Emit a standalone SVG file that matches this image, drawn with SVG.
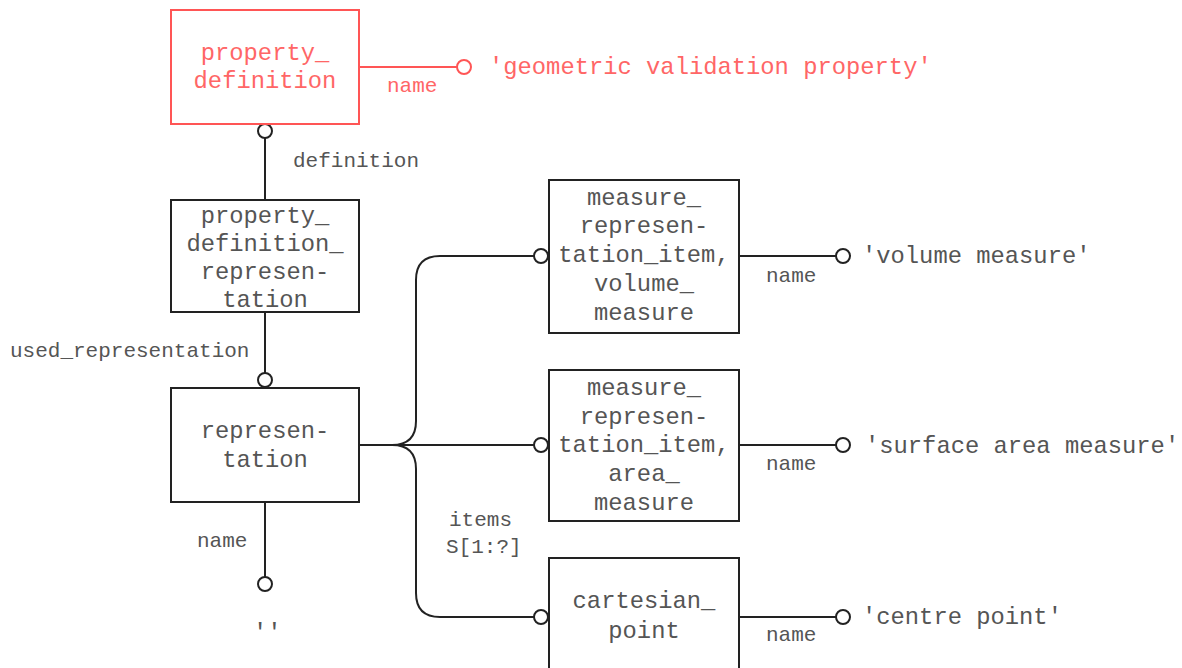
<svg xmlns="http://www.w3.org/2000/svg" width="1182" height="668" viewBox="0 0 1182 668">
<style>
.box{fill:#fff;stroke:#222;stroke-width:2}
.rbox{fill:#fff;stroke:#f55;stroke-width:2}
.ln{fill:none;stroke:#222;stroke-width:2}
.rln{fill:none;stroke:#f55;stroke-width:2}
.c{fill:#fff;stroke:#222;stroke-width:2}
.rc{fill:#fff;stroke:#f55;stroke-width:2}
.t{font-family:"Liberation Mono","Courier New",monospace;font-size:23.8px;fill:#555;text-anchor:middle}
.rt{font-family:"Liberation Mono","Courier New",monospace;font-size:23.8px;fill:#f66;text-anchor:middle}
.lt{font-family:"Liberation Mono","Courier New",monospace;font-size:23.8px;fill:#555}
.rlt{font-family:"Liberation Mono","Courier New",monospace;font-size:23.8px;fill:#f66}
.lb{font-family:"Liberation Mono","Courier New",monospace;font-size:21px;fill:#555}
.rlb{font-family:"Liberation Mono","Courier New",monospace;font-size:21px;fill:#f66}
</style>
<g id="connectors">
<line class="rln" x1="359" y1="67" x2="457" y2="67"/>
<circle class="rc" cx="464" cy="67" r="7"/>
<text class="rlb" x="387" y="92">name</text>
<text class="rlt" x="489" y="74">'geometric validation property'</text>
<line class="ln" x1="265" y1="138" x2="265" y2="200"/>
<circle class="c" cx="265" cy="131" r="7"/>
<text class="lb" x="293" y="167">definition</text>
<line class="ln" x1="265" y1="312" x2="265" y2="373"/>
<circle class="c" cx="265" cy="380" r="7"/>
<text class="lb" x="10" y="357">used_representation</text>
<line class="ln" x1="265" y1="502" x2="265" y2="577"/>
<circle class="c" cx="265" cy="584" r="7"/>
<text class="lb" x="197" y="547">name</text>
<text class="lt" x="253" y="640">''</text>
<path class="ln" d="M359,445 H534"/>
<path class="ln" d="M392,445 Q416,445 416,421 V280 Q416,256 440,256 H534"/>
<path class="ln" d="M392,445 Q416,445 416,469 V593 Q416,617 440,617 H534"/>
<circle class="c" cx="541" cy="256" r="7"/>
<circle class="c" cx="541" cy="445" r="7"/>
<circle class="c" cx="541" cy="617" r="7"/>
<text class="lb" x="449" y="526">items</text>
<text class="lb" x="446" y="553">S[1:?]</text>
<line class="ln" x1="739" y1="256" x2="836" y2="256"/>
<circle class="c" cx="843" cy="256" r="7"/>
<text class="lb" x="766" y="282">name</text>
<text class="lt" x="862" y="263">'volume measure'</text>
<line class="ln" x1="739" y1="445" x2="836" y2="445"/>
<circle class="c" cx="843" cy="445" r="7"/>
<text class="lb" x="766" y="470">name</text>
<text class="lt" x="865" y="453">'surface area measure'</text>
<line class="ln" x1="739" y1="617" x2="836" y2="617"/>
<circle class="c" cx="843" cy="617" r="7"/>
<text class="lb" x="766" y="641">name</text>
<text class="lt" x="862" y="624">'centre point'</text>
</g>
<g id="property_definition">
<rect class="rbox" x="171" y="10" width="188" height="114"/>
<text class="rt" x="265" y="60">property_</text>
<text class="rt" x="265" y="88">definition</text>
</g>
<g id="property_definition_representation">
<rect class="box" x="171" y="200" width="188" height="112"/>
<text class="t" x="265" y="223">property_</text>
<text class="t" x="265" y="251">definition_</text>
<text class="t" x="265" y="279">represen-</text>
<text class="t" x="265" y="307">tation</text>
</g>
<g id="representation">
<rect class="box" x="171" y="388" width="188" height="114"/>
<text class="t" x="265" y="438">represen-</text>
<text class="t" x="265" y="467">tation</text>
</g>
<g id="volume_measure">
<rect class="box" x="549" y="180" width="190" height="153"/>
<text class="t" x="644" y="205">measure_</text>
<text class="t" x="644" y="233">represen-</text>
<text class="t" x="644" y="262">tation_item,</text>
<text class="t" x="644" y="291">volume_</text>
<text class="t" x="644" y="320">measure</text>
</g>
<g id="area_measure">
<rect class="box" x="549" y="370" width="190" height="151"/>
<text class="t" x="644" y="395">measure_</text>
<text class="t" x="644" y="424">represen-</text>
<text class="t" x="644" y="452">tation_item,</text>
<text class="t" x="644" y="481">area_</text>
<text class="t" x="644" y="510">measure</text>
</g>
<g id="cartesian_point">
<rect class="box" x="549" y="558" width="190" height="140"/>
<text class="t" x="644" y="608">cartesian_</text>
<text class="t" x="644" y="638">point</text>
</g>
</svg>
